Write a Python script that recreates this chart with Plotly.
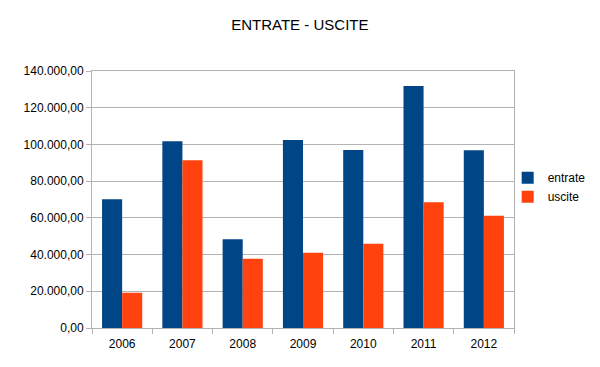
import plotly.graph_objects as go

years = ["2006", "2007", "2008", "2009", "2010", "2011", "2012"]
entrate = [70200, 101700, 48400, 102400, 97000, 131800, 96800]
uscite = [19200, 91400, 37700, 41000, 45900, 68500, 61100]

grid = "#b3b3b3"
fig = go.Figure()
fig.add_trace(go.Bar(x=years, y=entrate, name="entrate", marker=dict(color="#004586", line=dict(width=0))))
fig.add_trace(go.Bar(x=years, y=uscite, name="uscite", marker=dict(color="#ff420e", line=dict(width=0))))

# page body adds an 8px offset, so the figure is 8px smaller than the window
fig.update_layout(
    width=592, height=359,
    margin=dict(l=84, r=86, t=63, b=39, autoexpand=False),
    paper_bgcolor="white", plot_bgcolor="white",
    font=dict(family="Liberation Sans, Arial, sans-serif", size=12, color="black"),
    title=dict(text="ENTRATE - USCITE", x=0.493, xanchor="center", y=0.952, yanchor="middle",
               font=dict(size=15)),
    barmode="group", bargap=0.334, bargroupgap=0,
    separators=",.",
    showlegend=True,
    legend=dict(x=0.985, y=0.548, xanchor="left", yanchor="middle", font=dict(size=12),
                itemwidth=30, tracegroupgap=0, bgcolor="rgba(0,0,0,0)"),
    xaxis=dict(showline=True, linecolor=grid, linewidth=1, mirror=True, automargin=False,
               ticks="outside", ticklen=5, tickcolor=grid, tickson="boundaries",
               ticklabelstandoff=5, showgrid=False),
    yaxis=dict(range=[0, 140000], dtick=20000, tickformat=",.2f", automargin=False,
               showline=True, linecolor=grid, linewidth=1, mirror=True,
               ticks="outside", ticklen=5, tickcolor=grid,
               showgrid=True, gridcolor=grid, gridwidth=1, zeroline=False),
)
fig.write_html("out.html")
